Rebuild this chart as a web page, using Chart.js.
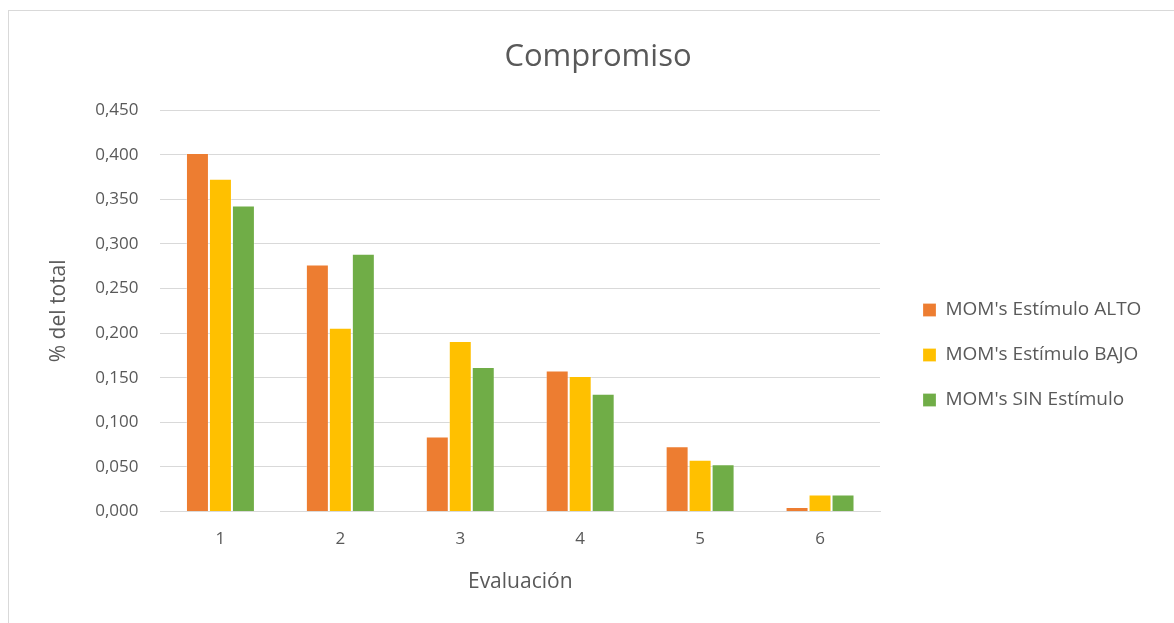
<!DOCTYPE html>
<html>
<head>
<meta charset="utf-8">
<script src="https://cdn.jsdelivr.net/npm/chart.js@4"></script>
<style>
  html, body { margin: 0; padding: 0; background: #fff; }
  .frame {
    position: absolute; left: 8px; top: 10px; width: 1166px; height: 613px;
    border-left: 1px solid #d9d9d9; border-top: 1px solid #d9d9d9; box-sizing: border-box;
  }
  .wrap { position: absolute; left: 0; top: 0; width: 1174px; height: 623px; }
</style>
</head>
<body>
<div class="frame"></div>
<div class="wrap"><canvas id="chart"></canvas></div>
<script>
/* Compromiso — barras agrupadas por evaluación */
const EVALS      = ['1', '2', '3', '4', '5', '6'];
const ALTO       = [0.402, 0.277, 0.084, 0.158, 0.073, 0.005];
const BAJO       = [0.373, 0.206, 0.191, 0.152, 0.058, 0.019];
const SIN_EST    = [0.343, 0.289, 0.162, 0.132, 0.053, 0.019];
const SERIES     = ["MOM's Estímulo ALTO", "MOM's Estímulo BAJO", "MOM's SIN Estímulo"];
const TEXT_COLOR = '#595959';
const FONT       = "'Open Sans', 'Liberation Sans', sans-serif";

const LEGEND_W = 270;  // ancho reservado a la leyenda
const LEGEND_DX = 17;  // separación extra entre gráfico y leyenda
const LEGEND_DY = 36;

const ds = (label, data, color) => ({
  label, data, backgroundColor: color,
  borderColor: 'rgba(255,255,255,.3)', borderWidth: { left: 1, right: 1, top: 1 },
  categoryPercentage: 0.575, barPercentage: 1,
});

// Leyenda con ancho fijo y desplazada, como en Excel
const legendNudge = {
  id: 'legendNudge',
  beforeInit(chart) {
    const lg = chart.legend;
    const fit = lg.fit;
    lg.fit = function () { fit.call(this); this.width = LEGEND_W; };
  },
  afterLayout(chart) {
    const lg = chart.legend;
    lg.left += LEGEND_DX; lg.right += LEGEND_DX;
    lg.top += LEGEND_DY; lg.bottom += LEGEND_DY;
  },
};

new Chart(document.getElementById('chart'), {
  type: 'bar',
  data: {
    labels: EVALS,
    datasets: [
      ds(SERIES[0], ALTO,    '#ED7D31'),
      ds(SERIES[1], BAJO,    '#FFC000'),
      ds(SERIES[2], SIN_EST, '#70AD47'),
    ],
  },
  plugins: [legendNudge],
  options: {
    responsive: true, maintainAspectRatio: false, animation: false,
    layout: { padding: { left: 46, right: 24, top: 39, bottom: 24 } },
    plugins: {
      tooltip: { enabled: false },
      title: {
        display: true, text: 'Compromiso', color: TEXT_COLOR,
        font: { family: FONT, size: 31, weight: 'normal' },
        padding: { top: 0, bottom: 34 },
      },
      legend: {
        position: 'right',
        labels: {
          color: TEXT_COLOR, boxWidth: 13, boxHeight: 13, padding: 26,
          font: { family: FONT, size: 19 },
        },
      },
    },
    scales: {
      x: {
        grid: { display: false, drawTicks: false },
        border: { color: '#d9d9d9', width: 1 },
        ticks: { color: TEXT_COLOR, font: { family: FONT, size: 17 }, padding: 18 },
        title: { display: true, text: 'Evaluación', color: TEXT_COLOR, font: { family: FONT, size: 21 }, padding: { top: 2 } },
      },
      y: {
        min: 0, max: 0.45,
        grid: { color: '#d9d9d9', drawTicks: false },
        border: { display: false },
        ticks: {
          stepSize: 0.05, color: TEXT_COLOR, padding: 22,
          font: { family: FONT, size: 17 },
          callback: v => v.toFixed(3).replace('.', ','),
        },
        title: { display: true, text: '% del total', color: TEXT_COLOR, font: { family: FONT, size: 21 }, padding: { top: 0, bottom: 2 } },
      },
    },
  },
});
</script>
</body>
</html>
